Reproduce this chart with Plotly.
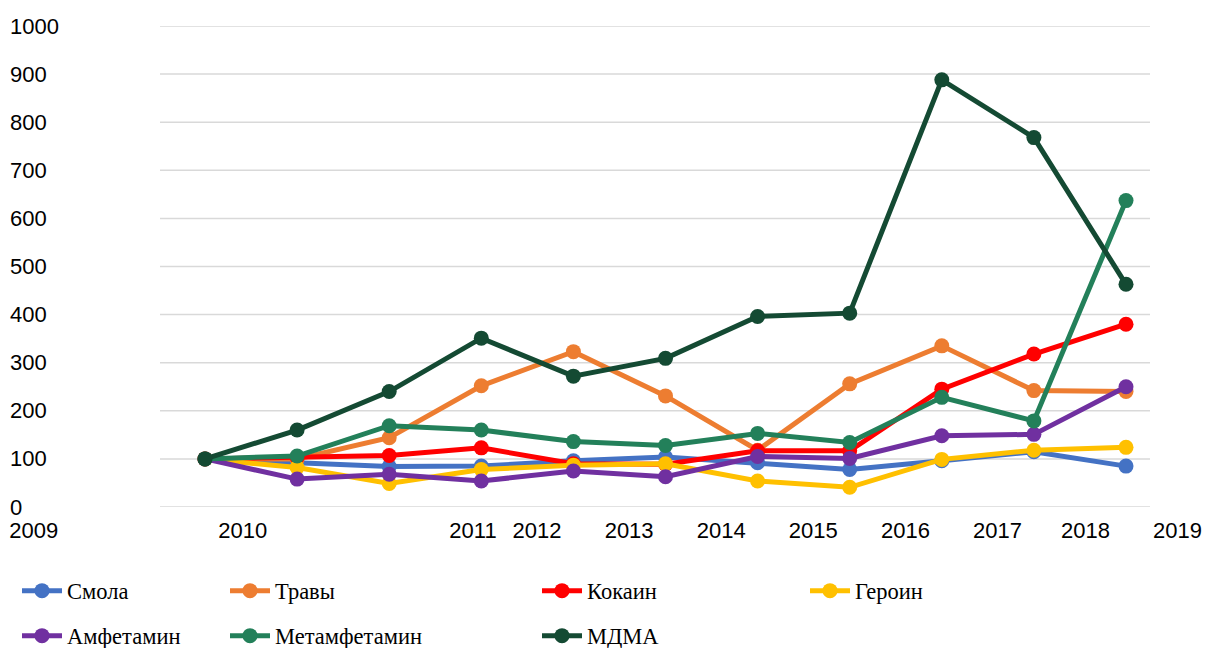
import plotly.graph_objects as go

# ---- data ----
periods = list(range(11))  # eleven consecutive measurements (index positions)
smola = [100, 92, 84, 85, 96, 104, 92, 78, 96, 115, 85]
travy = [100, 100, 144, 252, 323, 231, 118, 256, 335, 242, 240]
kokain = [100, 103, 107, 123, 90, 89, 117, 117, 245, 318, 380]
geroin = [100, 82, 49, 78, 87, 90, 54, 41, 99, 118, 124]
amfetamin = [100, 58, 68, 54, 75, 63, 105, 101, 148, 151, 250]
metamfetamin = [100, 106, 169, 160, 136, 128, 153, 134, 228, 179, 637]
mdma = [100, 160, 240, 351, 272, 309, 396, 403, 888, 768, 463]

x_tick_labels = ["2009", "2010", "2011", "2012", "2013", "2014", "2015", "2016", "2017", "2018", "2019"]
y_tick_values = [0, 100, 200, 300, 400, 500, 600, 700, 800, 900, 1000]

series = [
    ("Смола", smola, "#4472C4"),
    ("Травы", travy, "#ED7D31"),
    ("Кокаин", kokain, "#FF0000"),
    ("Героин", geroin, "#FFC000"),
    ("Амфетамин", amfetamin, "#7030A0"),
    ("Метамфетамин", metamfetamin, "#23805A"),
    ("МДМА", mdma, "#144A33"),
]

# ---- layout constants (figure sits at the page's 8px body margin) ----
W, H = 1202, 640
x_tick_pos = [-1.86, 0.41, 2.91, 3.605, 4.605, 5.605, 6.605, 7.605, 8.605, 9.56, 10.56]
legend_pos = [(9, 583), (217, 583), (529, 583), (797, 583),
              (9, 628), (217, 628), (529, 628)]
tick_font = dict(family="Liberation Sans", size=22, color="#000000")

fig = go.Figure()
for i, (name, vals, col) in enumerate(series):
    lg = "legend" if i == 0 else f"legend{i+1}"
    fig.add_trace(go.Scatter(
        x=periods, y=vals, name=name, mode="lines+markers",
        line=dict(color=col, width=5),
        marker=dict(color=col, size=15),
        legend=lg, hoverinfo="skip",
    ))

legend_font = dict(family="Liberation Serif", size=22.5, color="#000000")
legends = {}
for i, (px, py) in enumerate(legend_pos):
    key = "legend" if i == 0 else f"legend{i+1}"
    legends[key] = dict(
        x=px / W, y=1 - py / H, xref="container", yref="container",
        xanchor="left", yanchor="middle", font=legend_font,
        bgcolor="rgba(0,0,0,0)", borderwidth=0, itemwidth=40,
    )

shapes = []
annotations = []
for v in y_tick_values:
    shapes.append(dict(type="line", xref="paper", yref="y",
                       x0=152 / W, x1=1142 / W, y0=v, y1=v,
                       line=dict(color="#D9D9D9", width=1.5), layer="below"))
    annotations.append(dict(text=str(v), xref="paper", yref="y", x=0, y=v,
                            xanchor="left", yanchor="middle", xshift=0,
                            showarrow=False, font=tick_font))

fig.update_layout(
    width=W, height=H,
    margin=dict(l=0, r=0, t=18, b=141, autoexpand=False),
    paper_bgcolor="white", plot_bgcolor="white",
    showlegend=True,
    shapes=shapes,
    annotations=annotations,
    xaxis=dict(range=[-2.139, 10.912], tickvals=x_tick_pos, ticktext=x_tick_labels,
               showgrid=False, zeroline=False, showline=False, ticks="",
               tickangle=0, automargin=False, ticklabelstandoff=8,
               tickfont=tick_font, fixedrange=True),
    yaxis=dict(range=[0, 1000], showticklabels=False,
               showgrid=False, zeroline=False, showline=False, ticks="",
               automargin=False, fixedrange=True),
    **legends,
)

fig.write_html("out.html")
